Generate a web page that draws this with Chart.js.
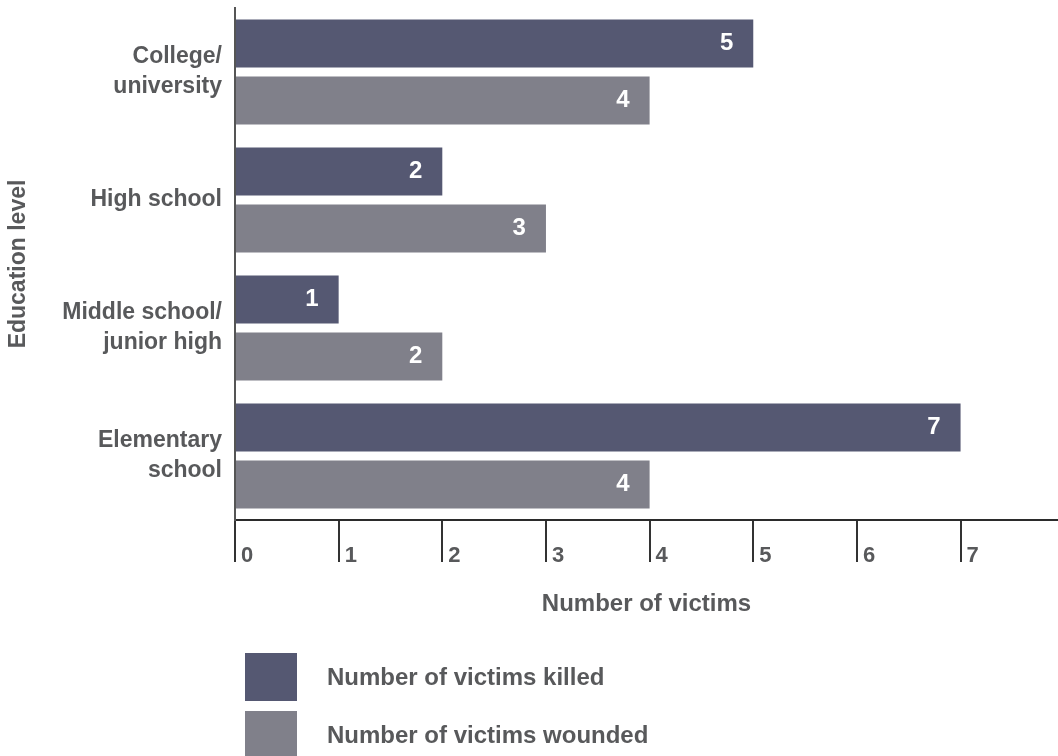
<!DOCTYPE html>
<html>
<head>
<meta charset="utf-8">
<script src="https://cdn.jsdelivr.net/npm/chart.js@4.4.1/dist/chart.umd.min.js"></script>
<style>
  html, body { margin: 0; padding: 0; background: #ffffff; }
  #wrap { position: relative; width: 1058px; height: 756px; overflow: hidden; }
  #legend { position: absolute; left: 245px; top: 653px; font-family: "Liberation Sans", Arial, sans-serif; font-weight: bold; font-size: 24px; color: #58595b; }
  .item { position: relative; height: 58px; }
  .sw { position: absolute; left: 0; top: 0; width: 52px; height: 48px; }
  .lab { position: absolute; left: 82px; top: 10px; white-space: nowrap; line-height: 28px; }
</style>
</head>
<body>
<div id="wrap">
  <canvas id="c"></canvas>
  <div id="legend"></div>
</div>
<script>
// ---- data ----
const categories = [["College/", "university"], ["High school"], ["Middle school/", "junior high"], ["Elementary", "school"]];
const seriesNames = ["Number of victims killed", "Number of victims wounded"];
const killed = [5, 2, 1, 7];
const wounded = [4, 3, 2, 4];
const xTicks = [0, 1, 2, 3, 4, 5, 6, 7];
const yTitle = "Education level";
const xTitle = "Number of victims";

const colors = ["#555872", "#80808a"];
const textColor = "#58595b";
const FONT = '"Liberation Sans", Arial, sans-serif';
Chart.defaults.font.family = FONT;

const valueLabels = {
  id: "valueLabels",
  afterDatasetsDraw(chart) {
    const ctx = chart.ctx;
    ctx.save();
    ctx.fillStyle = "#ffffff";
    ctx.font = "bold 24px " + FONT;
    ctx.textAlign = "right";
    ctx.textBaseline = "middle";
    chart.data.datasets.forEach((ds, di) => {
      chart.getDatasetMeta(di).data.forEach((bar, i) => {
        ctx.fillText(String(ds.data[i]), bar.x - 20, bar.y);
      });
    });
    ctx.restore();
  }
};

const chart = new Chart(document.getElementById("c"), {
  type: "bar",
  data: {
    labels: categories,
    datasets: [
      { label: seriesNames[0], data: killed, backgroundColor: colors[0], categoryPercentage: 0.89, barPercentage: 0.842 },
      { label: seriesNames[1], data: wounded, backgroundColor: colors[1], categoryPercentage: 0.89, barPercentage: 0.842 }
    ]
  },
  options: {
    indexAxis: "y",
    responsive: true,
    maintainAspectRatio: false,
    animation: false,
    layout: { padding: { top: 8, right: 0, left: 0, bottom: 137.6 } },
    plugins: { legend: { display: false }, tooltip: { enabled: false } },
    scales: {
      x: {
        type: "linear",
        min: 0,
        max: 7.94,
        afterFit(s) { s.height = 98.4; s.paddingLeft = 0; s.paddingRight = 0; },
        afterBuildTicks(s) { s.ticks = xTicks.map(v => ({ value: v })); },
        ticks: {
          stepSize: 1,
          includeBounds: false,
          align: "start",
          labelOffset: 6,
          padding: -19,
          color: textColor,
          font: { size: 22, weight: "bold" }
        },
        grid: { display: true, drawOnChartArea: false, drawTicks: true, tickLength: 42, color: "#333333", lineWidth: 2 },
        border: { display: true, color: "#2b2b2b", width: 2 },
        title: { display: true, text: xTitle, color: textColor, font: { size: 24, weight: "bold" }, padding: 0 }
      },
      y: {
        afterFit(s) { s.width = 235; s.paddingTop = 0; s.paddingBottom = 0; },
        ticks: { padding: 13, color: textColor, font: { size: 23, weight: "bold", lineHeight: 1.3 } },
        grid: { display: false, drawTicks: false },
        border: { display: true, color: "#555555", width: 2 },
        title: { display: true, text: yTitle, color: textColor, font: { size: 23, weight: "bold" }, padding: { top: 5, bottom: 0 } }
      }
    }
  },
  plugins: [valueLabels]
});

// HTML legend built from datasets
const legend = document.getElementById("legend");
chart.data.datasets.forEach(ds => {
  const it = document.createElement("div");
  it.className = "item";
  const sw = document.createElement("div");
  sw.className = "sw";
  sw.style.background = ds.backgroundColor;
  const lab = document.createElement("div");
  lab.className = "lab";
  lab.textContent = ds.label;
  it.appendChild(sw); it.appendChild(lab);
  legend.appendChild(it);
});
</script>
</body>
</html>
